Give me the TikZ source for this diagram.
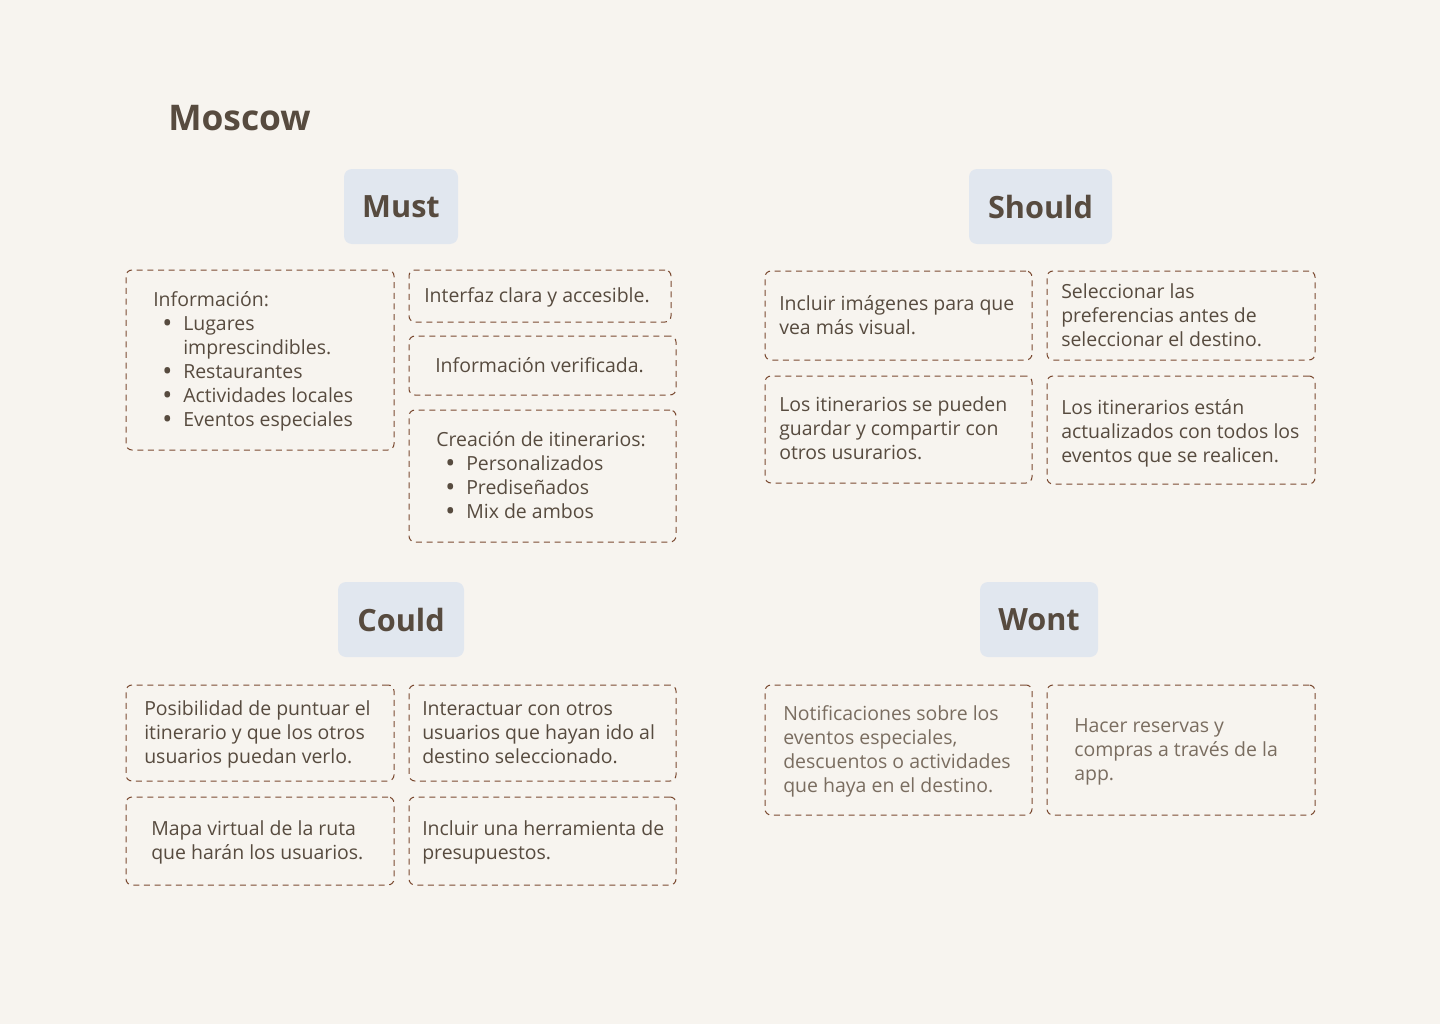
\documentclass[tikz,border=0pt]{standalone}
\usepackage{fontspec}
\setmainfont{Open Sans}
\usetikzlibrary{fit}
\definecolor{bg}{HTML}{F7F4EF}
\definecolor{ink}{HTML}{574B3F}
\definecolor{inklight}{HTML}{7A6D60}
\definecolor{rim}{HTML}{7B4B32}
\definecolor{tag}{HTML}{E1E7EF}
\tikzset{%
    card/.style={draw=rim,line width=0.75pt,dash pattern=on 4.5pt off 3.5pt,
        rounded corners=4.5pt,inner sep=0pt},%
    cardtext/.style={anchor=base west,align=left,inner sep=0pt,text=ink,
        font=\fontsize{14.6}{18}\selectfont},%
    tagbox/.style={fill=tag,rounded corners=6pt,inner sep=0pt},%
    tagtext/.style={inner sep=0pt,text=ink,font=\fontsize{23}{28}\selectfont\bfseries}%
}
\newcommand{\Bul}[1]{\hspace*{10.5pt}\makebox[0pt][c]{\smash{\raisebox{-1.6pt}{\fontsize{20}{18}\selectfont\textbullet}}}\hspace*{12pt}#1}
\newcommand{\Hang}[1]{\hspace*{22.5pt}#1}

\begin{document}
\begin{tikzpicture}[x=0.75pt,y=-0.75pt]
    \useasboundingbox[fill=bg] (0,0) rectangle (1440,1024);
    \node[anchor=base west,inner sep=0pt,text=ink,font=\fontsize{26.5}{30}\selectfont\bfseries]
        (title) at (168,131) {Moscow};
    % headers
    \node[tagbox,fit={(344,169) (458,244)}] (must) {};
    \node[tagtext] (mustl) at (must) {Must};
    \node[tagbox,fit={(969,169) (1112,244)}] (should) {};
    \node[tagtext] (shouldl) at (should) {Should};
    \node[tagbox,fit={(338,582) (464,657)}] (could) {};
    \node[tagtext] (couldl) at (could) {Could};
    \node[tagbox,fit={(980,582) (1098,657)}] (wont) {};
    \node[tagtext] (wontl) at (wont) {Wont};
    % must (text nodes sit on the baseline of their last line)
    \node[card,fit={(126,270) (394,450)}] (m1) {};
    \node[cardtext] (m1t) at (153,426) {Información:\\
        \Bul{Lugares}\\ \Hang{imprescindibles.}\\ \Bul{Restaurantes}\\
        \Bul{Actividades locales}\\ \Bul{Eventos especiales}};
    \node[card,fit={(409,270) (671,322)}] (m2) {};
    \node[cardtext] (m2t) at (424,302) {Interfaz clara y accesible.};
    \node[card,fit={(409,336) (676,395)}] (m3) {};
    \node[cardtext] (m3t) at (435,372) {Información verificada.};
    \node[card,fit={(409,410) (676,542)}] (m4) {};
    \node[cardtext] (m4t) at (436,518) {Creación de itinerarios:\\
        \Bul{Personalizados}\\ \Bul{Prediseñados}\\ \Bul{Mix de ambos}};
    % should
    \node[card,fit={(765,271) (1032,360)}] (s1) {};
    \node[cardtext] (s1t) at (779,334) {Incluir imágenes para que\\ vea más visual.};
    \node[card,fit={(1047,271) (1315,360)}] (s2) {};
    \node[cardtext] (s2t) at (1061,346) {Seleccionar las\\ preferencias antes de\\ seleccionar el destino.};
    \node[card,fit={(765,376) (1032,483)}] (s3) {};
    \node[cardtext] (s3t) at (779,459) {Los itinerarios se pueden\\ guardar y compartir con\\ otros usurarios.};
    \node[card,fit={(1047,376) (1315,484)}] (s4) {};
    \node[cardtext] (s4t) at (1061,462) {Los itinerarios están\\ actualizados con todos los\\ eventos que se realicen.};
    % could
    \node[card,fit={(126,685) (394,781)}] (c1) {};
    \node[cardtext] (c1t) at (144,763) {Posibilidad de puntuar el\\ itinerario y que los otros\\ usuarios puedan verlo.};
    \node[card,fit={(409,685) (676,781)}] (c2) {};
    \node[cardtext] (c2t) at (422,763) {Interactuar con otros\\ usuarios que hayan ido al\\ destino seleccionado.};
    \node[card,fit={(126,797) (394,885)}] (c3) {};
    \node[cardtext] (c3t) at (151,859) {Mapa virtual de la ruta\\ que harán los usuarios.};
    \node[card,fit={(409,797) (676,885)}] (c4) {};
    \node[cardtext] (c4t) at (422,859) {Incluir una herramienta de\\ presupuestos.};
    % wont
    \node[card,fit={(765,685) (1032,815)}] (w1) {};
    \node[cardtext,text=inklight] (w1t) at (783,792) {Notificaciones sobre los\\ eventos especiales,\\ descuentos o actividades\\ que haya en el destino.};
    \node[card,fit={(1047,685) (1315,815)}] (w2) {};
    \node[cardtext,text=inklight] (w2t) at (1074,780) {Hacer reservas y\\ compras a través de la\\ app.};
\end{tikzpicture}
\end{document}
